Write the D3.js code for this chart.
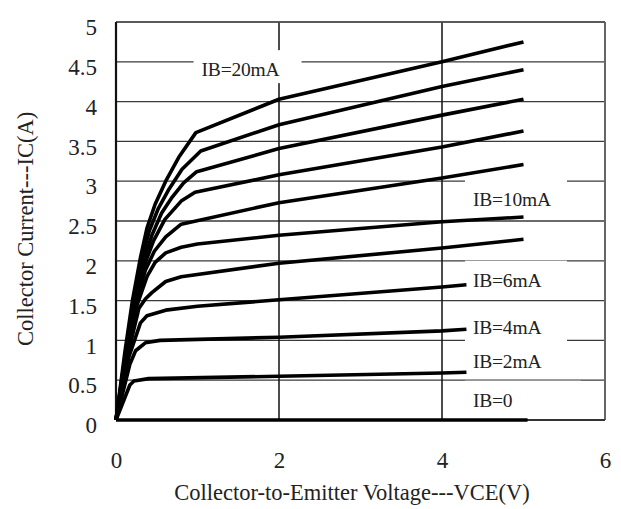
<!DOCTYPE html>
<html>
<head>
<meta charset="utf-8">
<script src="https://cdn.jsdelivr.net/npm/d3@7"></script>
<style>
  body { margin: 0; background: #fff; }
  text { font-family: "Liberation Serif", "Times New Roman", serif; fill: #222; }
</style>
</head>
<body>
<div id="chart"></div>
<script>
// axis ticks
const vceTicks = [0, 2, 4, 6];
const vceTickLabels = ["0", "2", "4", "6"];
const icTicks = [0, 0.5, 1, 1.5, 2, 2.5, 3, 3.5, 4, 4.5, 5];
const icTickLabels = ["0", "0.5", "1", "1.5", "2", "2.5", "3", "3.5", "4", "4.5", "5"];

// output curves, [VCE (V), IC (A)]
const ib20 = [[0, 0], [0.11, 0.86], [0.2, 1.49], [0.3, 2.04], [0.38, 2.41], [0.48, 2.71], [0.61, 3.0], [0.77, 3.3], [0.98, 3.61], [2, 4.03], [4, 4.5], [5, 4.75]];
const ib18 = [[0, 0], [0.12, 0.86], [0.21, 1.49], [0.31, 2.0], [0.41, 2.38], [0.52, 2.66], [0.65, 2.9], [0.81, 3.15], [1.04, 3.38], [2, 3.71], [4, 4.19], [5, 4.4]];
const ib16 = [[0, 0], [0.12, 0.85], [0.22, 1.48], [0.33, 1.98], [0.44, 2.32], [0.56, 2.6], [0.69, 2.8], [0.83, 2.98], [0.99, 3.12], [2, 3.41], [4, 3.83], [5, 4.03]];
const ib14 = [[0, 0], [0.13, 0.85], [0.23, 1.47], [0.35, 1.95], [0.46, 2.25], [0.6, 2.52], [0.8, 2.75], [0.97, 2.86], [2, 3.08], [4, 3.43], [5, 3.63]];
const ib12 = [[0, 0], [0.13, 0.84], [0.24, 1.45], [0.36, 1.88], [0.47, 2.12], [0.61, 2.3], [0.8, 2.46], [2, 2.73], [4, 3.04], [5, 3.21]];
const ib10 = [[0, 0], [0.14, 0.84], [0.26, 1.45], [0.38, 1.8], [0.48, 1.98], [0.61, 2.1], [0.8, 2.17], [1.0, 2.21], [2, 2.32], [4, 2.49], [5, 2.55]];
const ib8  = [[0, 0], [0.15, 0.84], [0.28, 1.4], [0.36, 1.52], [0.44, 1.6], [0.61, 1.74], [0.8, 1.8], [2, 1.97], [4, 2.16], [5, 2.27]];
const ib6  = [[0, 0], [0.16, 0.8], [0.3, 1.22], [0.38, 1.31], [0.61, 1.38], [1, 1.43], [2, 1.51], [4, 1.67], [4.3, 1.7]];
const ib4  = [[0, 0], [0.17, 0.7], [0.24, 0.87], [0.36, 0.97], [0.54, 1.0], [2, 1.04], [4, 1.12], [4.3, 1.14]];
const ib2  = [[0, 0], [0.17, 0.44], [0.22, 0.49], [0.4, 0.52], [2, 0.55], [4, 0.59], [4.3, 0.6]];
const ib0  = [[0, 0], [5.05, 0]];
const curves = [ib20, ib18, ib16, ib14, ib12, ib10, ib8, ib6, ib4, ib2, ib0];

// curve labels
const curveLabels = ["IB=20mA", "IB=10mA", "IB=6mA", "IB=4mA", "IB=2mA", "IB=0"];
const labelVce = [1.05, 4.38, 4.38, 4.38, 4.38, 4.38];
const labelIc = [4.32, 2.69, 1.675, 1.08, 0.65, 0.167];
const labelBoxW = [108, 102, 102, 102, 102, 116];

const margin = {top: 22, right: 16, bottom: 89, left: 116},
    width = 621 - margin.left - margin.right,
    height = 509 - margin.top - margin.bottom;

const svg = d3.select("#chart").append("svg")
    .attr("width", width + margin.left + margin.right)
    .attr("height", height + margin.top + margin.bottom)
    .append("g")
    .attr("transform", `translate(${margin.left}, ${margin.top})`);

const xScale = d3.scaleLinear().domain([0, 6]).range([0, width]);
const yScale = d3.scaleLinear().domain([0, 5]).range([height, 0]);

// horizontal grid
svg.append("g")
    .selectAll("line")
    .data(icTicks)
    .join("line")
    .attr("x1", 0)
    .attr("x2", width)
    .attr("y1", d => yScale(d))
    .attr("y2", d => yScale(d))
    .attr("stroke", "#3a3a3a")
    .attr("stroke-width", 1.3);

// vertical grid
svg.append("g")
    .selectAll("line")
    .data(vceTicks.filter(d => d > 0 && d < 6))
    .join("line")
    .attr("x1", d => xScale(d))
    .attr("x2", d => xScale(d))
    .attr("y1", 0)
    .attr("y2", height)
    .attr("stroke", "#111")
    .attr("stroke-width", 1.5);

// frame
svg.append("line").attr("x1", width).attr("x2", width).attr("y1", 0).attr("y2", height)
    .attr("stroke", "#666").attr("stroke-width", 2);
svg.append("line").attr("x1", 0).attr("x2", width).attr("y1", 0).attr("y2", 0)
    .attr("stroke", "#555").attr("stroke-width", 1.6);
svg.append("line").attr("x1", 0).attr("x2", width).attr("y1", height).attr("y2", height)
    .attr("stroke", "#333").attr("stroke-width", 2);
svg.append("line").attr("x1", 0).attr("x2", 0).attr("y1", 0).attr("y2", height)
    .attr("stroke", "#111").attr("stroke-width", 2.2);

// white boxes behind the labels (they break the grid lines)
svg.append("g")
    .selectAll("rect")
    .data(curveLabels)
    .join("rect")
    .attr("x", (d, i) => xScale(labelVce[i]) - 8)
    .attr("y", (d, i) => yScale(labelIc[i]) - 26)
    .attr("width", (d, i) => labelBoxW[i])
    .attr("height", 33)
    .attr("fill", "#fff");

// curves
const line = d3.line()
    .x(d => xScale(d[0]))
    .y(d => yScale(d[1]));

svg.append("g")
    .selectAll("path")
    .data(curves)
    .join("path")
    .attr("d", line)
    .attr("fill", "none")
    .attr("stroke", "#000")
    .attr("stroke-width", 3.6)
    .attr("stroke-linejoin", "round");

svg.append("g")
    .selectAll("text")
    .data(curveLabels)
    .join("text")
    .attr("x", (d, i) => xScale(labelVce[i]))
    .attr("y", (d, i) => yScale(labelIc[i]))
    .attr("font-size", 19.5)
    .attr("letter-spacing", -0.2)
    .text(d => d);

// axes
const yAxis = d3.axisLeft(yScale)
    .tickValues(icTicks)
    .tickSize(0)
    .tickPadding(19)
    .tickFormat((d, i) => icTickLabels[i]);

const xAxis = d3.axisBottom(xScale)
    .tickValues(vceTicks)
    .tickSize(0)
    .tickPadding(32)
    .tickFormat((d, i) => vceTickLabels[i]);

const gy = svg.append("g").call(yAxis);
gy.select(".domain").remove();
gy.selectAll("text")
    .attr("dy", "0.55em")
    .style("font-family", "Liberation Serif, serif")
    .style("font-size", "23px")
    .style("fill", "#222");

const gx = svg.append("g")
    .attr("transform", `translate(0, ${height})`)
    .call(xAxis);
gx.select(".domain").remove();
gx.selectAll("text")
    .style("font-family", "Liberation Serif, serif")
    .style("font-size", "23px")
    .style("fill", "#222");

// axis titles
svg.append("text")
    .attr("x", 236)
    .attr("y", height + 80)
    .attr("text-anchor", "middle")
    .attr("font-size", 22.5)
    .text("Collector-to-Emitter Voltage---VCE(V)");

svg.append("text")
    .attr("transform", `translate(${33 - margin.left}, ${yScale(2.4)}) rotate(-90)`)
    .attr("text-anchor", "middle")
    .attr("font-size", 22.5)
    .text("Collector Current---IC(A)");
</script>
</body>
</html>
